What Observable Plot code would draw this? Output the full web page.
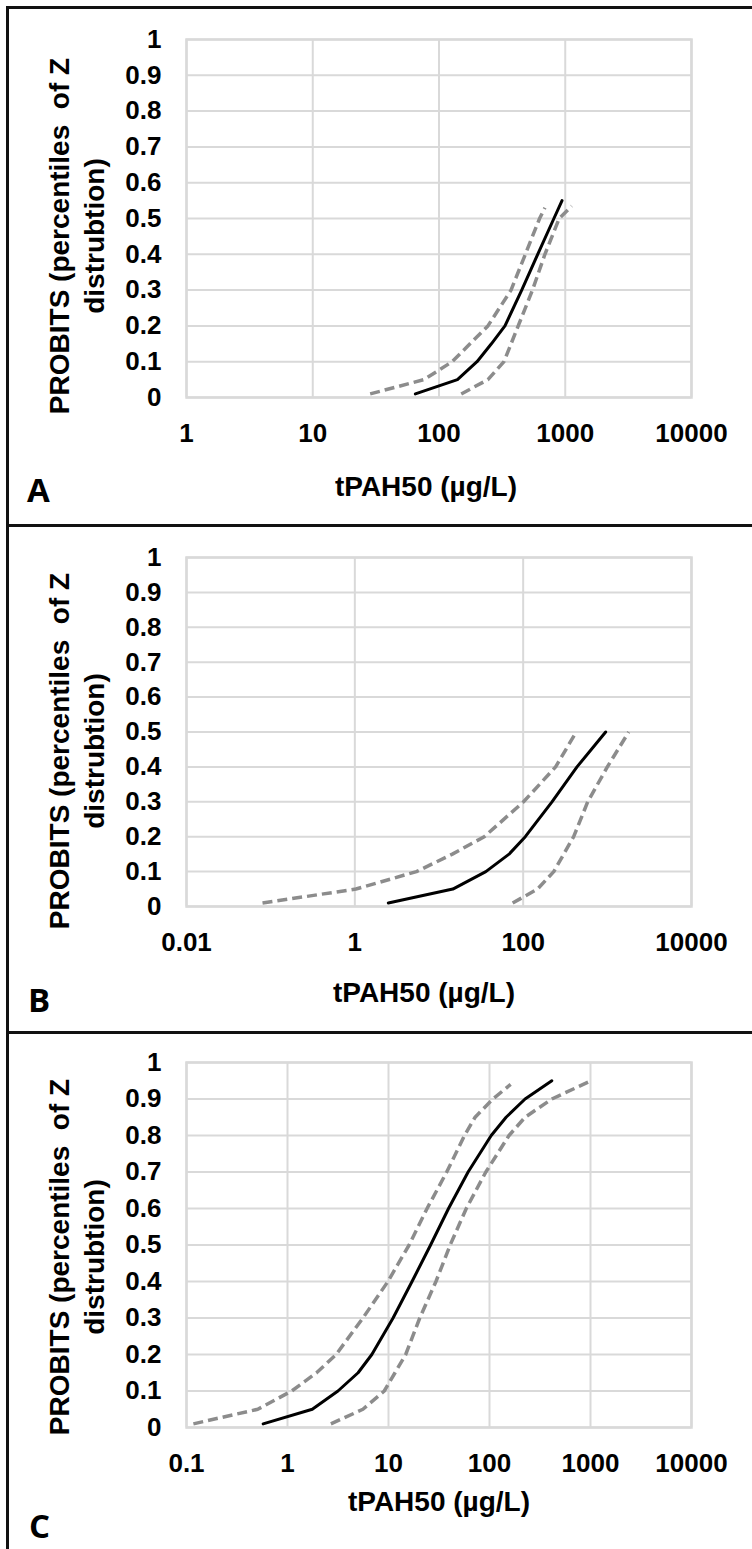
<!DOCTYPE html>
<html>
<head>
<meta charset="utf-8">
<script src="https://cdn.jsdelivr.net/npm/d3@7"></script>
<script src="https://cdn.jsdelivr.net/npm/@observablehq/plot@0.6"></script>
<style>
  body { margin: 0; background: #fff; }
  #root { position: relative; width: 752px; height: 1549px; overflow: hidden; background: #fff;
          font-family: "Liberation Sans", Arial, sans-serif; font-weight: bold; color: #000; }
  .svgwrap { position: absolute; left: 0; }
  .hline { position: absolute; left: 6px; width: 746px; height: 3px; background: #111; }
  .vline { position: absolute; left: 6px; top: 6px; width: 3px; height: 1543px; background: #111; }
  .ytitle { position: absolute; white-space: pre; text-align: center; font-size: 28px; line-height: 35px;
            transform: translate(-50%, -50%) rotate(-90deg); }
  .xtitle { position: absolute; white-space: pre; font-size: 28px; line-height: 28px; transform: translateX(-50%); }
  .letter { position: absolute; font-family: "Open Sans", sans-serif; font-weight: bold; font-size: 33px; line-height: 33px; }
</style>
</head>
<body>
<div id="root"></div>
<script>
// ---------- data ----------
const yTicks = [0, 0.1, 0.2, 0.3, 0.4, 0.5, 0.6, 0.7, 0.8, 0.9, 1];
const yTickLabels = ["0", "0.1", "0.2", "0.3", "0.4", "0.5", "0.6", "0.7", "0.8", "0.9", "1"];

// Panel A
const aTicks = [1, 10, 100, 1000, 10000];
const aMidY = [0.01, 0.05, 0.1, 0.15, 0.2, 0.3, 0.4, 0.5, 0.55];
const aMidX = [65, 140, 200, 260, 333, 452, 605, 813, 943];
const aLoY  = [0.01, 0.05, 0.1, 0.2, 0.3, 0.4, 0.5, 0.53];
const aLoX  = [28.5, 76, 127, 244, 372, 483, 626, 690];
const aHiY  = [0.01, 0.05, 0.1, 0.2, 0.3, 0.4, 0.5, 0.535];
const aHiX  = [150, 244, 327, 424, 550, 690, 895, 1125];

// Panel B
const bTicks = [0.01, 1, 100, 10000];
const bMidY = [0.01, 0.05, 0.1, 0.15, 0.2, 0.3, 0.4, 0.5];
const bMidX = [2.5, 14.6, 36, 68, 106, 220, 436, 955];
const bLoY  = [0.01, 0.05, 0.1, 0.15, 0.2, 0.3, 0.4, 0.5];
const bLoX  = [0.08, 1.03, 5.4, 14.4, 34.5, 101, 243, 427];
const bHiY  = [0.01, 0.05, 0.1, 0.2, 0.3, 0.4, 0.5];
const bHiX  = [75, 148, 231, 398, 585, 1000, 1795];

// Panel C
const cTicks = [0.1, 1, 10, 100, 1000, 10000];
const cMidY = [0.01, 0.05, 0.1, 0.15, 0.2, 0.3, 0.4, 0.5, 0.6, 0.7, 0.8, 0.85, 0.9, 0.95];
const cMidX = [0.574, 1.76, 3.16, 5.0, 6.84, 11.1, 17.1, 26.1, 39.3, 61.4, 104, 146, 225, 414];
const cLoY  = [0.01, 0.05, 0.1, 0.15, 0.2, 0.3, 0.4, 0.5, 0.6, 0.7, 0.8, 0.85, 0.9, 0.94];
const cLoX  = [0.117, 0.508, 1.1, 1.94, 3.03, 5.58, 9.87, 16.0, 24.1, 37.7, 56.5, 72, 108, 162];
const cHiY  = [0.01, 0.05, 0.1, 0.15, 0.2, 0.3, 0.4, 0.5, 0.6, 0.7, 0.8, 0.85, 0.9, 0.95];
const cHiX  = [2.69, 5.58, 9.08, 11.6, 14.8, 20.4, 29.5, 40.8, 58.9, 92, 156, 225, 414, 1012];

const yTitle = "PROBITS (percentiles  of Z\ndistrubtion)";
const xTitle = "tPAH50 (µg/L)";
const panelLetters = ["A", "B", "C"];

// ---------- drawing ----------
const pts = (xs, ys) => xs.map((x, i) => ({x, y: ys[i]}));
const root = document.getElementById("root");

function panel(cfg) {
  const fmtY = d => yTickLabels[yTicks.indexOf(d)] ?? String(d);
  const chart = Plot.plot({
    width: 752,
    height: cfg.height,
    marginTop: cfg.mt,
    marginBottom: cfg.mb,
    marginLeft: 186,
    marginRight: 61,
    style: {fontFamily: "'Liberation Sans', Arial, sans-serif", fontSize: "26px", fontWeight: "bold", color: "#000", background: "transparent", overflow: "visible"},
    x: {type: "log", domain: cfg.domain},
    y: {type: "linear", domain: [0, 1]},
    marks: [
      Plot.gridY(yTicks, {stroke: "#d9d9d9", strokeOpacity: 1, strokeWidth: 2}),
      Plot.gridX(cfg.ticks, {stroke: "#d9d9d9", strokeOpacity: 1, strokeWidth: 2}),
      Plot.frame({stroke: "#d9d9d9", strokeWidth: 2.5}),
      Plot.axisX(cfg.ticks, {tickSize: 0, tickPadding: 26, label: null, tickFormat: d => String(d), fontSize: 26, fontWeight: "bold"}),
      Plot.axisY(yTicks, {tickSize: 0, tickPadding: 25, label: null, tickFormat: fmtY, fontSize: 26, fontWeight: "bold"}),
      Plot.line(cfg.lo, {x: "x", y: "y", stroke: "#8c8c8c", strokeWidth: 3.5, strokeDasharray: "10,5", strokeLinecap: "butt"}),
      Plot.line(cfg.hi, {x: "x", y: "y", stroke: "#8c8c8c", strokeWidth: 3.5, strokeDasharray: "10,5", strokeLinecap: "butt"}),
      Plot.line(cfg.mid, {x: "x", y: "y", stroke: "#000", strokeWidth: 3})
    ]
  });
  const wrap = document.createElement("div");
  wrap.className = "svgwrap";
  wrap.style.top = cfg.top + "px";
  wrap.appendChild(chart);
  root.appendChild(wrap);

  const yt = document.createElement("div");
  yt.className = "ytitle";
  yt.textContent = yTitle;
  yt.style.left = "77px";
  yt.style.top = cfg.ytY + "px";
  root.appendChild(yt);

  const xt = document.createElement("div");
  xt.className = "xtitle";
  xt.textContent = xTitle;
  xt.style.left = cfg.xtX + "px";
  xt.style.top = cfg.xtTop + "px";
  root.appendChild(xt);

  const lt = document.createElement("div");
  lt.className = "letter";
  lt.textContent = cfg.letter;
  lt.style.left = cfg.letX + "px";
  lt.style.top = cfg.letTop + "px";
  root.appendChild(lt);
}

panel({top: 0, height: 525, mt: 39, mb: 128, domain: [1, 10000], ticks: aTicks,
       mid: pts(aMidX, aMidY), lo: pts(aLoX, aLoY), hi: pts(aHiX, aHiY),
       ytY: 236, xtX: 426, xtTop: 473, letter: panelLetters[0], letX: 27, letTop: 473});
panel({top: 525, height: 507, mt: 32, mb: 126, domain: [0.01, 10000], ticks: bTicks,
       mid: pts(bMidX, bMidY), lo: pts(bLoX, bLoY), hi: pts(bHiX, bHiY),
       ytY: 751, xtX: 424, xtTop: 979, letter: panelLetters[1], letX: 28, letTop: 983});
panel({top: 1032, height: 517, mt: 30, mb: 122, domain: [0.1, 10000], ticks: cTicks,
       mid: pts(cMidX, cMidY), lo: pts(cLoX, cLoY), hi: pts(cHiX, cHiY),
       ytY: 1257, xtX: 439, xtTop: 1488, letter: panelLetters[2], letX: 29, letTop: 1509});

for (const y of [6, 524, 1031]) {
  const l = document.createElement("div");
  l.className = "hline";
  l.style.top = y + "px";
  root.appendChild(l);
}
const v = document.createElement("div");
v.className = "vline";
root.appendChild(v);
</script>
</body>
</html>
